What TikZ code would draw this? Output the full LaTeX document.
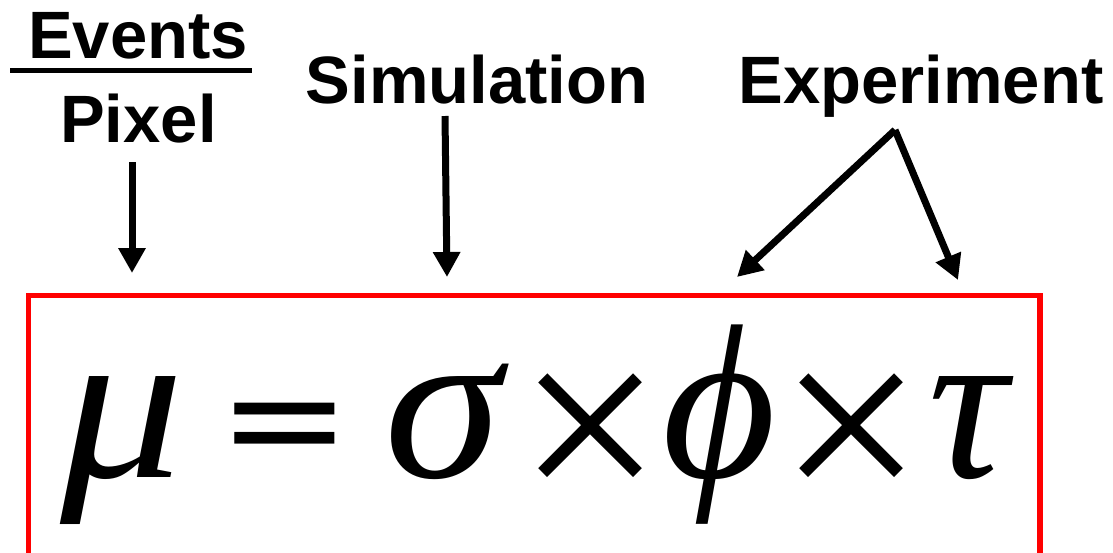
\documentclass[tikz,border=0pt]{standalone}
\usepackage{fontspec}
\setmainfont{Liberation Sans}
\newfontfamily\grk{Liberation Serif}
\usetikzlibrary{arrows.meta}
\begin{document}
\begin{tikzpicture}[x=1pt,y=-1pt,
  lbl/.style={font=\fontsize{67}{67}\selectfont\bfseries, inner sep=0pt, anchor=base},
  arr/.style={line width=7pt, -{Triangle[length=25pt,width=26pt]}},
  glyph/.style={font=\fontsize{220}{220}\selectfont\grk\itshape, inner sep=0pt, anchor=base west},
  eqs/.style={font=\fontsize{172}{172}\selectfont\bfseries, inner sep=0pt, anchor=base west},
  tms/.style={font=\fontsize{255}{255}\selectfont\grk, inner sep=0pt, anchor=base west},
  frame/.style={draw=red, line width=5.5pt}]
\useasboundingbox (0,0) rectangle (1113,552);
\begin{scope}
\clip (0,0) rectangle (1113,552);
\draw[frame] (28.5,295.5) rectangle (1040,620);
\end{scope}
% labels
\node[lbl] (events) at (138,58) {Events};
\node[lbl] (pixel) at (138.5,142) {Pixel};
\draw[line width=5pt] (10,70.5) -- (252,70.5);
\node[lbl] (sim) at (477,103) {Simulation};
\node[lbl] (exp) at (921,103) {Experiment};
% arrow endpoints
\coordinate (e1) at (132,162);
\coordinate (e2) at (132,273);
\coordinate (s1) at (445,116);
\coordinate (s2) at (447,277);
\coordinate (x0) at (895,130);
\coordinate (x1) at (737,277);
\coordinate (x2) at (958,280);
\draw[arr] (e1) -- (e2);
\draw[arr] (s1) -- (s2);
\draw[arr] (x0) -- (x1);
\draw[arr] (x0) -- (x2);
% formula
\node[glyph] (mu) at (60,477) {\scalebox{1.12}[1]{μ}};
\node[eqs] (eq) at (226,459) {\scalebox{1.16}[0.63]{=}};
\node[glyph] (sigma) at (384,477) {\scalebox{1.08}[1]{σ}};
\node[tms] (t1) at (518,510) {×};
\node[glyph] (phi) at (662,477) {ϕ};
\node[tms] (t2) at (779,510) {×};
\node[glyph] (tau) at (928,477) {τ};
\end{tikzpicture}
\end{document}
